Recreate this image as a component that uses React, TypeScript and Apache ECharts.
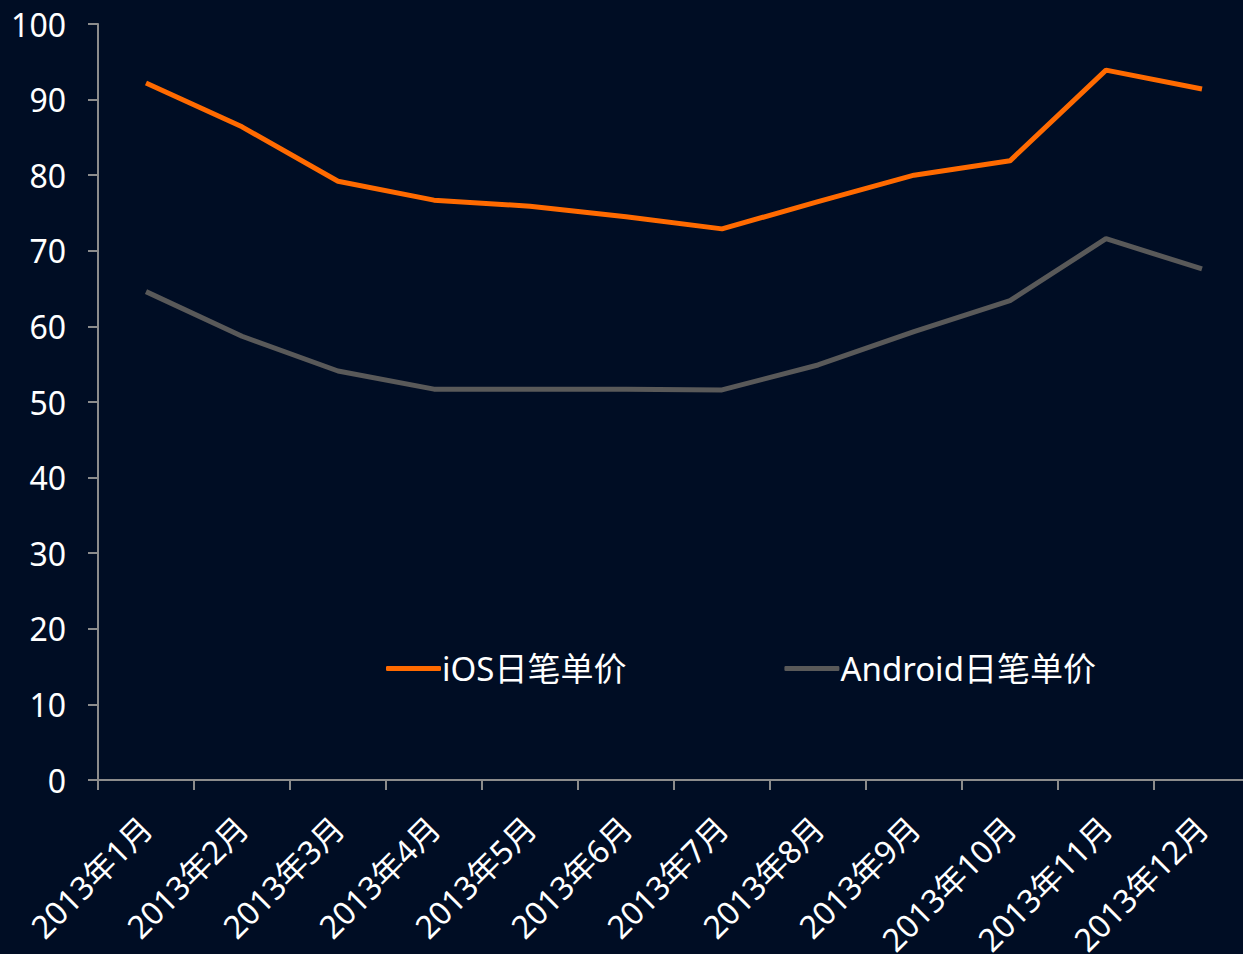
import React, { useEffect, useRef } from "react";
import * as echarts from "echarts";

const categories = [
  "2013年1月", "2013年2月", "2013年3月", "2013年4月", "2013年5月", "2013年6月",
  "2013年7月", "2013年8月", "2013年9月", "2013年10月", "2013年11月", "2013年12月",
];
const iosValues = [92.2, 86.4, 79.2, 76.7, 75.9, 74.5, 72.9, 76.5, 80.0, 81.9, 93.9, 91.4];
const androidValues = [64.6, 58.7, 54.1, 51.7, 51.7, 51.7, 51.6, 54.9, 59.3, 63.4, 71.6, 67.6];
const seriesNames = ["iOS日笔单价", "Android日笔单价"];

const FONT = "'Noto Sans', 'Noto Sans CJK SC', sans-serif";

export default function App() {
  const ref = useRef<HTMLDivElement>(null);
  useEffect(() => {
    if (!ref.current) return;
    const chart = echarts.init(ref.current, undefined, { renderer: "svg" });
    chart.setOption({
      animation: false,
      backgroundColor: "#000d24",
      textStyle: { fontFamily: FONT },
      grid: { left: 98, top: 24, bottom: 174, width: 1152, containLabel: false, outerBoundsMode: "none" },
      legend: {
        left: 381,
        top: 647,
        icon: "roundRect",
        itemWidth: 55,
        itemHeight: 5,
        itemGap: 158,
        textStyle: { color: "#ffffff", fontSize: 33, fontFamily: FONT, padding: [0, 0, 0, -4] },
        data: seriesNames,
      },
      xAxis: {
        type: "category",
        data: categories,
        boundaryGap: true,
        axisLine: { show: true, lineStyle: { color: "#8c8c8c", width: 2 } },
        axisTick: { show: true, length: 10, lineStyle: { color: "#8c8c8c", width: 2 } },
        axisLabel: { color: "#ffffff", fontSize: 32, rotate: 45, margin: 42, interval: 0, fontFamily: FONT },
        splitLine: { show: false },
      },
      yAxis: {
        type: "value",
        min: 0,
        max: 100,
        interval: 10,
        axisLine: { show: true, lineStyle: { color: "#8c8c8c", width: 2 } },
        axisTick: { show: true, length: 10, lineStyle: { color: "#8c8c8c", width: 2 } },
        axisLabel: { color: "#ffffff", fontSize: 32, margin: 32, fontFamily: FONT },
        splitLine: { show: false },
      },
      series: [
        {
          name: seriesNames[0],
          type: "line",
          data: iosValues,
          showSymbol: false,
          symbol: "none",
          itemStyle: { color: "#ff6a00" },
          lineStyle: { color: "#ff6a00", width: 5 },
        },
        {
          name: seriesNames[1],
          type: "line",
          data: androidValues,
          showSymbol: false,
          symbol: "none",
          itemStyle: { color: "#595959" },
          lineStyle: { color: "#595959", width: 5 },
        },
      ],
    });
    return () => chart.dispose();
  }, []);
  return (
    <div style={{ position: "fixed", left: 0, top: 0, width: 1243, height: 954, overflow: "hidden", background: "#000d24" }}>
      <div ref={ref} style={{ width: 1243, height: 954 }} />
    </div>
  );
}
